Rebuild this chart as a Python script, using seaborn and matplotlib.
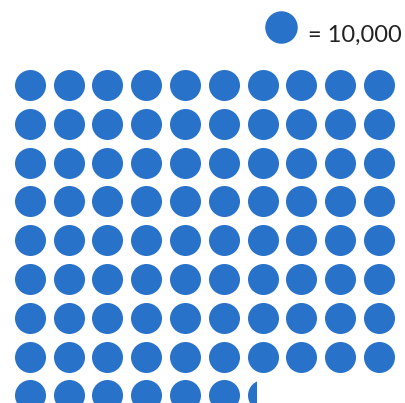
import numpy as np
import pandas as pd
import matplotlib
matplotlib.use("Agg")
import matplotlib.pyplot as plt
from matplotlib.patches import Rectangle
import seaborn as sns

# Pictogram data
total_value = 863000
unit_value = 10000
icons_per_row = 10
legend_label = "= 10,000"
icon_color = "#2872CA"

sns.set_theme(style="white")
plt.rcParams["font.family"] = ["Lato", "DejaVu Sans"]

units = total_value / unit_value
n_full = int(np.floor(units))
frac = units - n_full
n_icons = int(np.ceil(units))

idx = np.arange(n_icons)
icons = pd.DataFrame({"col": idx % icons_per_row, "row": idx // icons_per_row})

fig = plt.figure(figsize=(4.06, 4.03), dpi=100)
ax = fig.add_axes([0, 0, 1, 1])

# grid pitch and origin in pixels
pitch = 38.8
x0, y0 = 29.7, 85.0
W, H = 406, 403
ax.set_xlim(-x0 / pitch, (W - x0) / pitch)
ax.set_ylim((H - y0) / pitch, -y0 / pitch)
ax.axis("off")

diam_px = 31.0
s_icon = (diam_px * 0.72) ** 2

full = icons.iloc[:n_full]
part = icons.iloc[n_full:]

sns.scatterplot(data=full, x="col", y="row", s=s_icon, color=icon_color,
                linewidth=0, ax=ax, legend=False)

if len(part):
    sns.scatterplot(data=part, x="col", y="row", s=s_icon, color=icon_color,
                    linewidth=0, ax=ax, legend=False)
    coll = ax.collections[-1]
    r = diam_px / 2 / pitch
    cx = part["col"].iloc[0]
    cut = cx - r + frac * 2 * r
    clip = Rectangle((-5, -5), cut + 5, 30, transform=ax.transData)
    coll.set_clip_path(clip)

# key
key = pd.DataFrame({"col": [(280.5 - x0) / pitch], "row": [(27 - y0) / pitch]})
sns.scatterplot(data=key, x="col", y="row", s=(32.5 * 0.72) ** 2,
                color=icon_color, linewidth=0, ax=ax, legend=False)
ax.text((308 - x0) / pitch, (35 - y0) / pitch, legend_label, fontsize=17,
        color="#222222", ha="left", va="center")

fig.savefig("out.png", dpi=100)
